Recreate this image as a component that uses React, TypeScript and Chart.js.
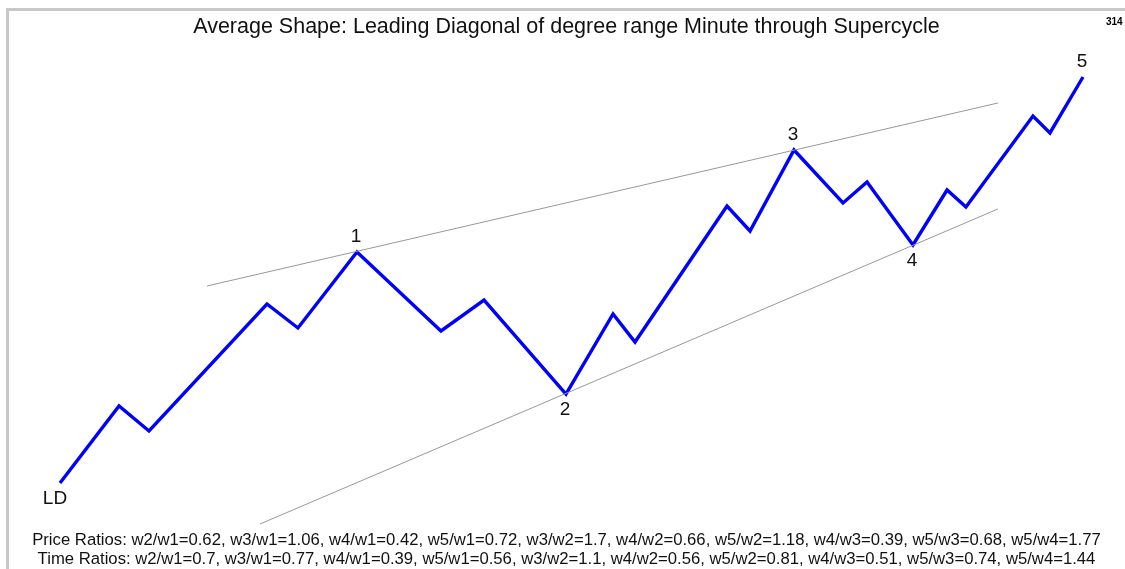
import React, { useEffect, useRef } from "react";
import { Chart, registerables } from "chart.js";

Chart.register(...registerables);

// Average leading diagonal shape (time units 0..100, price units 0..100)
const waveTime = [0, 5.77, 8.7, 20.23, 23.26, 29.03, 37.24, 41.45, 49.46, 54.06, 56.21, 65.2, 67.45, 71.75, 76.54, 78.89, 83.38, 86.71, 88.56, 95.11, 96.77, 100];
const wavePrice = [0, 18.97, 12.81, 44.09, 38.18, 56.9, 37.44, 45.07, 21.92, 41.63, 34.73, 68.23, 62.07, 82.02, 68.97, 74.14, 58.62, 72.17, 67.98, 90.39, 86.21, 100];

// Channel lines (1-3 and 2-4 trendlines)
const upperTime = [14.37, 91.69];
const upperPrice = [48.52, 93.6];
const lowerTime = [19.55, 91.69];
const lowerPrice = [-10.1, 67.49];

// Wave labels
const labelNames = ["LD", "1", "2", "3", "4", "5"];
const labelIndex = [0, 5, 8, 13, 16, 21];
const labelAbove = [false, true, false, true, false, true];

const titleText = "Average Shape: Leading Diagonal of degree range Minute through Supercycle";
const priceRatios = "Price Ratios: w2/w1=0.62, w3/w1=1.06, w4/w1=0.42, w5/w1=0.72, w3/w2=1.7, w4/w2=0.66, w5/w2=1.18, w4/w3=0.39, w5/w3=0.68, w5/w4=1.77";
const timeRatios = "Time Ratios: w2/w1=0.7, w3/w1=0.77, w4/w1=0.39, w5/w1=0.56, w3/w2=1.1, w4/w2=0.56, w5/w2=0.81, w4/w3=0.51, w5/w3=0.74, w5/w4=1.44";
const cornerText = "314";

const FONT = "'Liberation Sans', Arial, sans-serif";

const toPoints = (xs: number[], ys: number[]) => xs.map((x, i) => ({ x, y: ys[i] }));

const framePlugin = {
  id: "frame",
  beforeDraw(chart: any) {
    const ctx = chart.ctx;
    ctx.save();
    ctx.fillStyle = "#ffffff";
    ctx.fillRect(0, 0, chart.width, chart.height);
    ctx.fillStyle = "#c8c8c8";
    ctx.fillRect(6, 8, chart.width, 3);
    ctx.fillRect(6, 8, 3, chart.height);
    ctx.restore();
  },
  afterDraw(chart: any) {
    const ctx = chart.ctx;
    ctx.save();
    ctx.fillStyle = "#000";
    ctx.font = `bold 10px ${FONT}`;
    ctx.textAlign = "left";
    ctx.textBaseline = "middle";
    ctx.fillText(cornerText, 1106, 22);
    ctx.restore();
  },
};

const waveLabelPlugin = {
  id: "waveLabels",
  afterDatasetsDraw(chart: any) {
    const ctx = chart.ctx;
    const xs = chart.scales.x;
    const ys = chart.scales.y;
    ctx.save();
    ctx.fillStyle = "#111";
    ctx.font = `19px ${FONT}`;
    ctx.textAlign = "center";
    ctx.textBaseline = "middle";
    labelNames.forEach((name, i) => {
      const idx = labelIndex[i];
      const px = xs.getPixelForValue(waveTime[idx]);
      const py = ys.getPixelForValue(wavePrice[idx]);
      const dx = name === "LD" ? -5 : -1;
      ctx.fillText(name, px + dx, labelAbove[i] ? py - 15 : py + 16);
    });
    ctx.restore();
  },
};

export default function App() {
  const canvasRef = useRef<HTMLCanvasElement>(null);

  useEffect(() => {
    if (!canvasRef.current) return;
    const chart = new Chart(canvasRef.current, {
      type: "scatter",
      data: {
        datasets: [
          {
            data: toPoints(upperTime, upperPrice),
            showLine: true,
            borderColor: "#999999",
            borderWidth: 1,
            pointRadius: 0,
            clip: false as any,
          },
          {
            data: toPoints(lowerTime, lowerPrice),
            showLine: true,
            borderColor: "#999999",
            borderWidth: 1,
            pointRadius: 0,
            clip: false as any,
          },
          {
            data: toPoints(waveTime, wavePrice),
            showLine: true,
            borderColor: "#0000ff",
            borderWidth: 3.4,
            pointRadius: 0,
            clip: false as any,
          },
        ],
      },
      options: {
        animation: false,
        responsive: false,
        events: [],
        layout: { padding: { left: 28, right: 20, top: 0, bottom: 0 } },
        scales: {
          x: { type: "linear", display: false, min: -3.128, max: 102.151 },
          y: { type: "linear", display: false, min: -10.1, max: 100 },
        },
        plugins: {
          legend: { display: false },
          tooltip: { enabled: false },
          title: {
            display: true,
            text: titleText,
            color: "#111",
            font: { family: FONT, size: 21.5, weight: "normal", lineHeight: 1.2 },
            padding: { top: 14.6, bottom: 36.6 },
          },
          subtitle: {
            display: true,
            position: "bottom",
            text: [priceRatios, timeRatios],
            color: "#111",
            font: { family: FONT, size: 16.7, weight: "normal", lineHeight: "19px" as any },
            padding: { top: 7, bottom: 0 },
          },
        },
      },
      plugins: [framePlugin, waveLabelPlugin],
    });
    return () => chart.destroy();
  }, []);

  return (
    <div style={{ position: "fixed", left: 0, top: 0, width: 1125, height: 569, background: "#fff" }}>
      <canvas ref={canvasRef} width={1125} height={569} style={{ display: "block" }} />
    </div>
  );
}
